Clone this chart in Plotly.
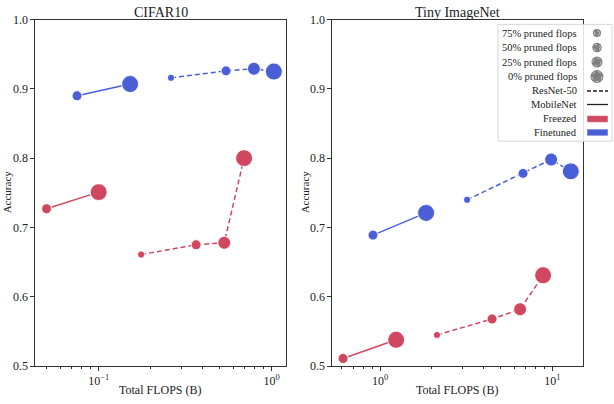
import plotly.graph_objects as go
from plotly.subplots import make_subplots

# ---- data ----
datasets = ["CIFAR10", "Tiny ImageNet"]
prune_labels = ["75% pruned flops", "50% pruned flops", "25% pruned flops", "0% pruned flops"]

# CIFAR10
c10_mob_fin_flops = [0.075, 0.152]
c10_mob_fin_acc = [0.890, 0.907]
c10_res_fin_flops = [0.262, 0.545, 0.79, 1.03]
c10_res_fin_acc = [0.916, 0.926, 0.929, 0.925]
c10_mob_frz_flops = [0.050, 0.100]
c10_mob_frz_acc = [0.727, 0.751]
c10_res_frz_flops = [0.176, 0.366, 0.532, 0.693]
c10_res_frz_acc = [0.661, 0.675, 0.678, 0.800]

# Tiny ImageNet
tin_mob_fin_flops = [0.91, 1.85]
tin_mob_fin_acc = [0.689, 0.721]
tin_res_fin_flops = [3.2, 6.76, 9.84, 12.8]
tin_res_fin_acc = [0.740, 0.778, 0.798, 0.781]
tin_mob_frz_flops = [0.61, 1.24]
tin_mob_frz_acc = [0.511, 0.538]
tin_res_frz_flops = [2.14, 4.47, 6.5, 8.84]
tin_res_frz_acc = [0.545, 0.568, 0.582, 0.631]

mob_prune = [1, 3]          # index into prune levels (50%, 0%)
res_prune = [0, 1, 2, 3]    # 75%, 50%, 25%, 0%

RED = "#d0485f"
BLUE = "#4a5fd6"
GREY = "#808080"
FONT = "Liberation Serif"
W, H = 614, 404

marker_sizes = [7, 10, 13, 17]
legend_sizes = [8, 9.5, 11, 13]


def px2x(p):
    return p / W


def px2y(p):
    return 1 - p / H


fig = make_subplots(rows=1, cols=2)


def add_series(col, flops, acc, prune, color, dash):
    sizes = [marker_sizes[i] for i in prune]
    fig.add_trace(go.Scatter(
        x=flops, y=acc, mode="lines+markers",
        line=dict(color=color, width=1.5, dash=dash),
        marker=dict(size=sizes, color=color, opacity=1,
                    line=dict(width=1.1, color="rgba(255,255,255,0.8)")),
        showlegend=False), row=1, col=col)


add_series(1, c10_mob_fin_flops, c10_mob_fin_acc, mob_prune, BLUE, "solid")
add_series(1, c10_res_fin_flops, c10_res_fin_acc, res_prune, BLUE, "5px,3px")
add_series(1, c10_mob_frz_flops, c10_mob_frz_acc, mob_prune, RED, "solid")
add_series(1, c10_res_frz_flops, c10_res_frz_acc, res_prune, RED, "5px,3px")

add_series(2, tin_mob_fin_flops, tin_mob_fin_acc, mob_prune, BLUE, "solid")
add_series(2, tin_res_fin_flops, tin_res_fin_acc, res_prune, BLUE, "5px,3px")
add_series(2, tin_mob_frz_flops, tin_mob_frz_acc, mob_prune, RED, "solid")
add_series(2, tin_res_frz_flops, tin_res_frz_acc, res_prune, RED, "5px,3px")

axis_common = dict(showline=True, linecolor="#333333", linewidth=1.2, mirror=True,
                   ticks="outside", ticklen=3.5, tickcolor="#333333", showgrid=False,
                   zeroline=False, tickfont=dict(family=FONT, size=12, color="#222222"))

fig.update_xaxes(type="log", **axis_common)
fig.update_yaxes(range=[0.5, 1.0], tickvals=[0.5, 0.6, 0.7, 0.8, 0.9, 1.0],
                 tickformat=".1f", **axis_common)

fig.update_layout(
    xaxis=dict(domain=[px2x(35), px2x(286)], range=[-1.368, 0.083],
               tickvals=[0.1, 1], ticktext=["10<sup>−1</sup>", "10<sup>0</sup>"],
               minor=dict(ticks="outside", ticklen=2, tickcolor="#333333",
                          tickvals=[0.05, 0.06, 0.07, 0.08, 0.09, 0.2, 0.3, 0.4,
                                    0.5, 0.6, 0.7, 0.8, 0.9])),
    xaxis2=dict(domain=[px2x(332), px2x(583)], range=[-0.279, 1.178],
                tickvals=[1, 10], ticktext=["10<sup>0</sup>", "10<sup>1</sup>"],
                minor=dict(ticks="outside", ticklen=2, tickcolor="#333333",
                           tickvals=[0.6, 0.7, 0.8, 0.9, 2, 3, 4, 5, 6, 7, 8, 9])),
    yaxis=dict(domain=[px2y(372), px2y(13)]),
    yaxis2=dict(domain=[px2y(372), px2y(13)]),
    width=W, height=H, margin=dict(l=0, r=0, t=0, b=0),
    plot_bgcolor="white", paper_bgcolor="white",
    font=dict(family=FONT, size=12, color="#222222"),
)

annotations = []
for i, name in enumerate(datasets):
    cx = (35 + 286) / 2 if i == 0 else (332 + 583) / 2
    annotations.append(dict(x=px2x(cx), y=px2y(6), text=name, showarrow=False,
                            xref="paper", yref="paper", xanchor="center",
                            yanchor="middle", font=dict(family=FONT, size=14)))
    annotations.append(dict(x=px2x(cx), y=px2y(397), text="Total FLOPS (B)",
                            showarrow=False, xref="paper", yref="paper",
                            xanchor="center", yanchor="middle",
                            font=dict(family=FONT, size=12)))
    lx = 7 if i == 0 else 305
    annotations.append(dict(x=px2x(lx), y=px2y(192), text="Accuracy", textangle=-90,
                            showarrow=False, xref="paper", yref="paper",
                            xanchor="center", yanchor="middle",
                            font=dict(family=FONT, size=11)))

# ---- hand-built legend (labels left, symbols right) ----
shapes = [dict(type="rect", xref="paper", yref="paper",
               x0=px2x(498), x1=px2x(612), y0=px2y(139), y1=px2y(18),
               line=dict(color="#d6d6d6", width=1), fillcolor="rgba(255,255,255,0.85)",
               layer="above")]
legend_rows = prune_labels + ["ResNet-50", "MobileNet", "Freezed", "Finetuned"]
row_y = [27, 42, 57, 72, 87, 101, 116, 130]
sym_x = 597
for k, (lab, yy) in enumerate(zip(legend_rows, row_y)):
    annotations.append(dict(x=px2x(579), y=px2y(yy), text=lab, showarrow=False,
                            xref="paper", yref="paper", xanchor="right",
                            yanchor="middle", font=dict(family=FONT, size=10.5)))
    if k < 4:
        r = legend_sizes[k] / 2
        shapes.append(dict(type="circle", xref="paper", yref="paper",
                           xsizemode="pixel", ysizemode="pixel",
                           xanchor=px2x(sym_x), yanchor=px2y(yy),
                           x0=-r, x1=r, y0=-r, y1=r,
                           fillcolor=GREY, line=dict(width=0), layer="above"))
        rr = r - 1.5
        shapes.append(dict(type="circle", xref="paper", yref="paper",
                           xsizemode="pixel", ysizemode="pixel",
                           xanchor=px2x(sym_x), yanchor=px2y(yy),
                           x0=-rr, x1=rr, y0=-rr, y1=rr,
                           line=dict(width=0.8, color="rgba(255,255,255,0.75)", dash="dot"),
                           layer="above"))
    elif k < 6:
        shapes.append(dict(type="line", xref="paper", yref="paper",
                           x0=px2x(587), x1=px2x(608), y0=px2y(yy), y1=px2y(yy),
                           line=dict(color="#222222", width=1.3,
                                     dash="4px,2px" if k == 4 else "solid"),
                           layer="above"))
    else:
        col = RED if k == 6 else BLUE
        shapes.append(dict(type="rect", xref="paper", yref="paper",
                           x0=px2x(587), x1=px2x(608), y0=px2y(yy + 3.5), y1=px2y(yy - 3.5),
                           fillcolor=col, line=dict(color="rgba(255,255,255,0.5)", width=1),
                           layer="above"))

fig.update_layout(annotations=annotations, shapes=shapes)

fig.write_html("out.html", config={"displayModeBar": False},
               post_script="document.body.style.margin='0';")
